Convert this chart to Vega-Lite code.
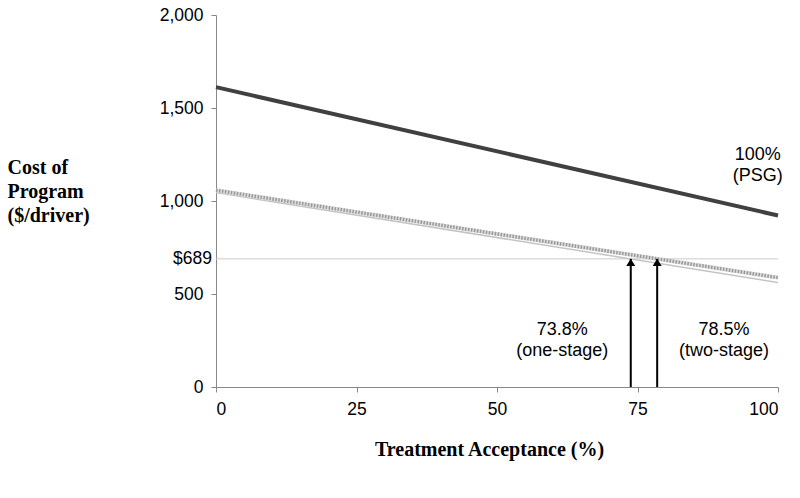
{
  "$schema": "https://vega.github.io/schema/vega-lite/v6.json",
  "width": 562,
  "height": 372,
  "autosize": {"type": "none"},
  "padding": {"left": 216, "top": 15, "right": 22, "bottom": 111},
  "background": "white",
  "config": {"view": {"stroke": null}, "font": "Liberation Sans"},
  "datasets": {
    "lines": [
      {"series": "PSG", "x": 0, "cost": 1612},
      {"series": "PSG", "x": 100, "cost": 922},
      {"series": "two-stage", "x": 0, "cost": 1058},
      {"series": "two-stage", "x": 100, "cost": 588},
      {"series": "one-stage", "x": 0, "cost": 1045},
      {"series": "one-stage", "x": 100, "cost": 562}
    ],
    "arrows": [
      {"x": 73.8, "cost": 689, "base": 0},
      {"x": 78.5, "cost": 689, "base": 0}
    ],
    "labels": [
      {"x": 61.6, "cost": 280, "label": "73.8%\n(one-stage)"},
      {"x": 90.4, "cost": 280, "label": "78.5%\n(two-stage)"},
      {"x": 96.4, "cost": 1220, "label": "100%\n(PSG)"}
    ]
  },
  "encoding": {
    "x": {
      "field": "x",
      "type": "quantitative",
      "scale": {"domain": [0, 100], "nice": false, "zero": false},
      "axis": {
        "values": [0, 25, 50, 75, 100],
        "format": "d",
        "grid": false,
        "domainColor": "#888888",
        "tickColor": "#888888",
        "tickSize": 5,
        "labelFont": "Liberation Sans",
        "labelFontSize": 17.5,
        "labelColor": "black",
        "labelPadding": 8,
        "title": "Treatment Acceptance (%)",
        "titleFont": "Liberation Serif",
        "titleFontSize": 20,
        "titleFontWeight": "bold",
        "titleColor": "black",
        "titleX": 273,
        "titleY": 68,
        "titleAlign": "center",
        "titleBaseline": "alphabetic"
      }
    },
    "y": {
      "field": "cost",
      "type": "quantitative",
      "scale": {"domain": [0, 2000], "nice": false},
      "axis": {
        "values": [0, 500, 1000, 1500, 2000],
        "format": ",.0f",
        "grid": false,
        "domainColor": "#888888",
        "tickColor": "#888888",
        "tickSize": 5,
        "labelFont": "Liberation Sans",
        "labelFontSize": 17.5,
        "labelColor": "black",
        "labelPadding": 8,
        "title": ["Cost of", "Program", "($/driver)"],
        "titleAngle": 0,
        "titleAlign": "left",
        "titleBaseline": "alphabetic",
        "titleX": -209,
        "titleY": 158,
        "titleLineHeight": 24,
        "titleFont": "Liberation Serif",
        "titleFontSize": 20,
        "titleFontWeight": "bold",
        "titleColor": "black"
      }
    }
  },
  "layer": [
    {
      "data": {"values": [{"x": 0, "x2": 100, "cost": 689}]},
      "mark": {"type": "rule", "color": "#cccccc", "strokeWidth": 1},
      "encoding": {"x2": {"field": "x2"}}
    },
    {
      "data": {"name": "lines"},
      "transform": [{"filter": "datum.series === 'one-stage'"}],
      "mark": {"type": "line", "color": "#c4c4c4", "strokeWidth": 1.5}
    },
    {
      "data": {"name": "lines"},
      "transform": [{"filter": "datum.series === 'two-stage'"}],
      "mark": {"type": "line", "color": "#dddddd", "strokeWidth": 4}
    },
    {
      "data": {"name": "lines"},
      "transform": [{"filter": "datum.series === 'two-stage'"}],
      "mark": {"type": "line", "color": "#999999", "strokeWidth": 3.5, "strokeDash": [1.5, 1.5]}
    },
    {
      "data": {"name": "lines"},
      "transform": [{"filter": "datum.series === 'PSG'"}],
      "mark": {"type": "line", "color": "#404040", "strokeWidth": 4}
    },
    {
      "data": {"name": "arrows"},
      "mark": {"type": "rule", "color": "black", "strokeWidth": 2},
      "encoding": {"y2": {"field": "base"}}
    },
    {
      "data": {"name": "arrows"},
      "mark": {"type": "point", "shape": "M0,0L-1,1.6L1,1.6Z", "filled": true, "color": "black", "opacity": 1, "size": 81, "strokeWidth": 0}
    },
    {
      "data": {"name": "labels"},
      "mark": {"type": "text", "lineBreak": "\n", "fontSize": 18, "align": "center", "baseline": "alphabetic", "lineHeight": 21, "font": "Liberation Sans", "color": "black"},
      "encoding": {"text": {"field": "label"}}
    },
    {
      "data": {"values": [{"x": 0, "cost": 689, "label": "$689"}]},
      "mark": {"type": "text", "fontSize": 17.5, "align": "right", "baseline": "middle", "dx": -4, "font": "Liberation Sans", "color": "black"},
      "encoding": {"text": {"field": "label"}}
    }
  ]
}
